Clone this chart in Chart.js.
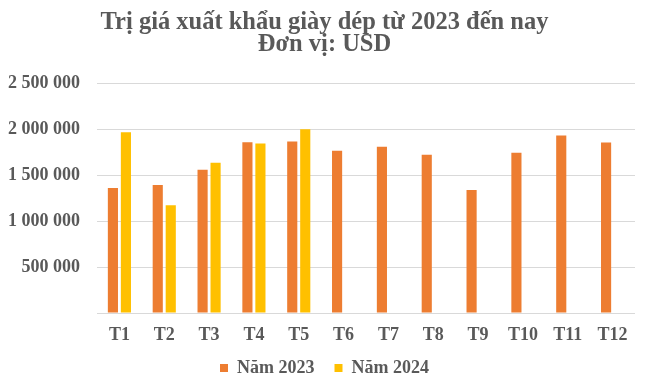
<html lang="vi">
<head>
  <meta charset="UTF-8">
  <title>Trị giá xuất khẩu giày dép</title>
  <script src="https://cdn.jsdelivr.net/npm/chart.js"></script>
  <style>
    html, body { margin: 0; padding: 0; background: #fff; }
    #wrap { width: 649px; height: 390px; }
  </style>
</head>
<body>
  <div id="wrap">
    <canvas id="chart" width="649" height="390"></canvas>
  </div>
  <script>
    const months = ['T1', 'T2', 'T3', 'T4', 'T5', 'T6', 'T7', 'T8', 'T9', 'T10', 'T11', 'T12']
    const values2023 = [1360000, 1392000, 1557000, 1856000, 1864000, 1765000, 1809000, 1721000, 1338000, 1743000, 1930000, 1853000]
    const values2024 = [1966000, 1173000, 1634000, 1842000, 1999000, null, null, null, null, null, null, null]
    const titleLines = ['Trị giá xuất khẩu giày dép từ 2023 đến nay', 'Đơn vị: USD']
    const yTicks = [0, 500000, 1000000, 1500000, 2000000, 2500000]

    const grey = '#595959'
    const font = 'Liberation Serif, Times New Roman, serif'

    const fmt = v => String(v).replace(/\B(?=(\d{3})+(?!\d))/g, ' ')

    // scales are kept tight for layout, so let their labels draw past their boxes
    const unclip = {
      id: 'unclip',
      afterLayout: c => {
        c.scales.x.bottom += 20
        c.scales.y.left -= 14
      }
    }

    new Chart(document.getElementById('chart'), {
      type: 'bar',
      data: {
        labels: months,
        datasets: [
          { label: 'Năm 2023', data: values2023, backgroundColor: '#ED7D31' },
          { label: 'Năm 2024', data: values2024, backgroundColor: '#FFC000' }
        ]
      },
      plugins: [unclip],
      options: {
        responsive: false,
        animation: false,
        categoryPercentage: 0.58,
        barPercentage: 0.78,
        layout: { padding: { left: 14, right: 14, top: 0, bottom: 3 } },
        plugins: {
          title: {
            display: true,
            text: titleLines,
            color: grey,
            font: { family: font, size: 24.5, weight: 'bold', lineHeight: 0.9 },
            padding: { top: 12, bottom: 27 }
          },
          legend: {
            position: 'bottom',
            labels: {
              color: grey,
              font: { family: font, size: 18, weight: 'bold' },
              boxWidth: 8,
              boxHeight: 8,
              padding: 20
            }
          },
          tooltip: { enabled: false }
        },
        scales: {
          x: {
            grid: { display: false },
            border: { display: false },
            ticks: { color: grey, font: { family: font, size: 18, weight: 'bold' }, padding: 4 },
            afterFit: s => { s.height = 26 }
          },
          y: {
            min: yTicks[0],
            max: yTicks[yTicks.length - 1],
            grid: { color: '#d9d9d9', drawTicks: false },
            border: { display: false },
            ticks: {
              stepSize: 500000,
              color: grey,
              padding: 17,
              font: { family: font, size: 18, weight: 'bold' },
              callback: v => v === 0 ? '' : fmt(v)
            },
            afterFit: s => { s.width = 83 }
          }
        }
      }
    })
  </script>
</body>
</html>
